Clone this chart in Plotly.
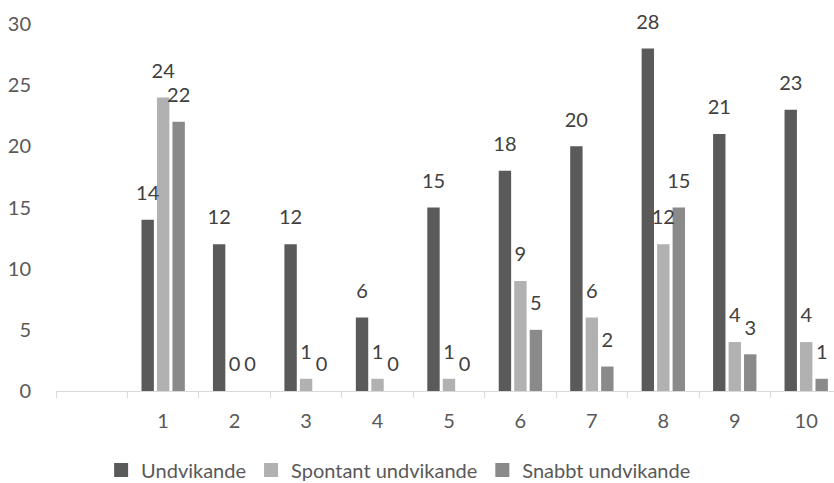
import plotly.graph_objects as go

# Categories: a blank leading slot followed by 1..10
categories = [" ", "1", "2", "3", "4", "5", "6", "7", "8", "9", "10"]
groups = ["1", "2", "3", "4", "5", "6", "7", "8", "9", "10"]

undvikande = [14, 12, 12, 6, 15, 18, 20, 28, 21, 23]
spontant = [24, 0, 1, 1, 1, 9, 6, 12, 4, 4]
snabbt = [22, 0, 0, 0, 0, 5, 2, 15, 3, 1]

series = [
    ("Undvikande", undvikande, "#5a5a5a", "g1"),
    ("Spontant undvikande", spontant, "#b1b1b1", "g2"),
    ("Snabbt undvikande", snabbt, "#8a8a8a", "g3"),
]

font_family = "Lato, 'Open Sans', sans-serif"
label_color = "#404040"
axis_text = "#595959"
gap = 0.35

fig = go.Figure()
for name, vals, color, grp in series:
    fig.add_trace(go.Bar(
        name=name,
        x=groups,
        y=vals,
        offsetgroup=grp,
        marker=dict(color=color, line=dict(width=0)),
        showlegend=False,
        hoverinfo="x+y+name",
    ))

# value labels, grouped the same way as the bars
for name, vals, color, grp in series:
    fig.add_trace(go.Scatter(
        x=groups,
        y=vals,
        offsetgroup=grp,
        mode="markers+text",
        marker=dict(size=22, opacity=0),
        text=[str(v) for v in vals],
        textposition="top center",
        textfont=dict(size=20, color=label_color, family=font_family),
        showlegend=False,
        cliponaxis=False,
        hoverinfo="skip",
    ))

# legend entries with larger square swatches
for name, vals, color, grp in series:
    fig.add_trace(go.Scatter(
        x=[None],
        y=[None],
        offsetgroup=grp,
        mode="markers",
        name=name,
        marker=dict(symbol="square", size=14, color=color),
        showlegend=True,
    ))

fig.update_layout(
    width=834,
    height=483,
    margin=dict(l=56, r=0, t=24, b=92),
    paper_bgcolor="white",
    plot_bgcolor="white",
    barmode="group",
    bargap=gap,
    bargroupgap=0.2,
    scattermode="group",
    scattergap=gap,
    font=dict(family=font_family, color=axis_text, size=20),
    showlegend=True,
    legend=dict(
        orientation="h",
        x=0.058,
        xanchor="left",
        yref="container",
        y=0.027,
        yanchor="middle",
        font=dict(size=20, color=axis_text, family=font_family),
        itemwidth=30,
        traceorder="normal",
    ),
)

fig.update_xaxes(
    type="category",
    categoryorder="array",
    categoryarray=categories,
    range=[-0.5, 10.389],
    tickson="boundaries",
    ticks="outside",
    ticklen=6,
    tickcolor="#d9d9d9",
    showline=True,
    linecolor="#d9d9d9",
    linewidth=1,
    showgrid=False,
    ticklabelstandoff=12,
    tickfont=dict(size=20, color=axis_text, family=font_family),
)

fig.update_yaxes(
    range=[0, 30],
    dtick=5,
    showgrid=False,
    zeroline=False,
    showline=False,
    ticks="",
    ticklabelstandoff=24,
    tickfont=dict(size=20, color=axis_text, family=font_family),
)

fig.write_html("out.html")
